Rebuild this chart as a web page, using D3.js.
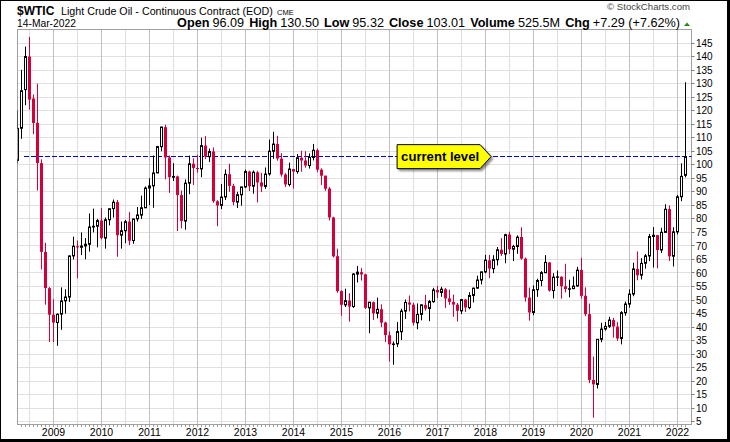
<!DOCTYPE html>
<html><head><meta charset="utf-8">
<script src="https://cdn.jsdelivr.net/npm/d3@7/dist/d3.min.js"></script>
<style>
body{margin:0;background:#fff}
svg{display:block}
text{font-family:"Liberation Sans",Arial,sans-serif}
</style>
</head><body>
<svg id="chart" width="730" height="442"></svg>
<script>
// ---- data: monthly WTIC candles, Apr 2008 .. Mar 2022 ----
const firstYear = 2008, firstMonth = 3; // April (0-based month)
const opens = [
 101.6,113.5,127.8,140.0,124.5,115.5,100.6,67.8,54.4,
 44.6,41.7,44.8,49.7,51.1,66.3,69.9,69.5,70.0,70.6,77.0,77.3,
 79.4,72.9,79.7,83.8,86.2,74.0,75.6,79.0,72.0,80.0,81.4,84.1,
 91.4,92.2,97.0,106.7,113.9,102.7,95.4,95.7,88.8,79.2,93.2,100.4,
 98.8,98.5,107.1,103.0,104.9,86.5,85.0,88.1,96.5,92.2,86.2,88.9,
 91.8,97.5,92.1,97.2,93.5,92.0,96.6,105.0,107.7,102.3,96.4,92.7,
 98.4,97.5,102.6,101.6,99.7,102.7,105.4,98.2,96.0,91.2,80.5,66.2,
 53.3,48.2,49.8,47.6,59.6,60.3,59.5,47.1,49.2,45.1,46.6,41.7,
 37.0,33.6,33.8,38.3,45.9,49.1,48.3,41.6,44.7,48.2,46.9,49.4,
 53.7,52.8,54.0,50.6,49.3,48.3,46.0,50.2,47.2,51.7,54.4,57.4,
 60.4,64.7,61.6,64.9,68.6,67.0,74.2,68.8,69.8,73.3,65.3,50.9,
 45.4,53.8,57.2,60.1,63.9,53.5,58.5,58.6,55.1,54.1,54.2,55.2,
 61.1,51.6,44.8,20.5,18.8,35.5,39.3,40.3,42.6,40.2,35.8,45.3,
 48.5,52.2,61.5,59.2,63.6,66.3,73.5,74.0,68.5,75.0,83.6,66.2,
 75.2,88.2,96.09
];
const highs = [
 119.9,135.1,143.67,147.27,126.0,130.0,102.0,71.2,54.8,
 50.3,45.0,54.7,54.0,66.5,73.4,72.0,75.0,72.9,82.0,83.8,80.0,
 83.95,80.5,83.2,87.15,87.0,79.0,79.6,82.5,80.0,84.4,88.6,92.0,
 95.0,103.4,107.0,114.1,114.8,103.4,100.6,96.0,90.5,94.6,103.4,102.4,
 103.7,110.0,110.6,106.0,106.4,86.9,92.9,98.3,100.4,93.0,90.0,91.0,
 98.2,97.8,97.9,97.8,97.0,99.0,109.3,112.2,110.7,104.3,96.9,100.8,
 98.5,104.0,105.2,104.99,104.2,107.7,106.0,98.7,95.9,91.8,80.8,69.0,
 53.6,54.2,52.5,59.9,62.6,61.8,59.7,49.3,49.5,50.9,48.4,42.0,
 38.4,34.7,41.9,46.8,50.2,51.7,49.0,48.75,48.3,51.9,50.0,54.5,
 55.2,54.9,54.5,53.8,52.0,48.9,50.4,50.4,52.9,54.6,59.0,60.5,
 66.7,66.7,66.6,69.6,72.9,74.5,75.3,70.4,73.9,76.9,65.7,54.6,
 55.4,57.9,60.7,66.6,64.0,59.9,60.9,58.8,63.4,57.5,58.7,62.3,
 65.65,54.7,48.7,29.1,35.6,41.6,41.9,43.8,43.4,41.9,45.9,49.4,
 53.9,63.8,67.98,65.5,67.0,74.45,76.98,74.0,76.7,85.41,84.97,76.9,
 88.84,100.54,130.50
];
const lows = [
 100.6,109.6,122.0,120.4,111.3,90.5,61.3,48.3,34.5,
 34.5,33.1,39.0,45.0,49.3,65.0,58.0,66.6,65.1,67.9,75.0,69.5,
 72.4,69.0,77.6,80.5,66.0,69.0,71.0,70.3,70.8,79.0,80.0,84.0,
 85.1,84.1,96.9,105.0,94.6,89.6,94.0,75.5,76.5,76.0,89.1,92.5,
 97.1,95.4,102.1,101.0,85.9,77.3,83.6,87.0,90.0,85.0,84.0,84.9,
 91.5,90.3,89.3,86.1,89.9,91.1,96.0,102.2,101.5,95.6,91.8,92.0,
 91.2,96.7,97.4,98.9,98.6,101.6,97.2,92.5,90.4,79.4,65.7,52.7,
 44.2,47.4,42.0,47.1,56.5,57.2,46.7,37.75,42.6,43.2,40.0,34.5,
 27.3,26.05,32.6,35.2,43.0,45.8,40.6,39.2,42.5,46.1,42.2,49.0,
 50.7,51.2,47.1,48.2,43.8,42.05,44.8,45.6,46.6,49.1,54.2,55.8,
 59.9,58.1,59.9,62.8,66.3,63.6,67.0,64.4,67.1,64.9,49.4,42.4,
 44.4,51.2,55.1,60.0,53.1,50.6,55.2,50.5,52.8,50.99,54.1,55.0,
 50.6,44.0,19.3,6.5,17.3,34.4,38.7,39.7,36.1,34.9,33.6,44.2,
 47.2,51.4,57.3,57.6,61.6,64.4,62.0,61.7,67.4,74.96,64.4,62.4,
 74.27,86.55,95.32
];
const closes = [
 113.46,127.35,140.0,124.08,115.46,100.64,67.81,54.43,44.6,
 41.68,44.76,49.66,51.12,66.31,69.89,69.45,69.96,70.61,77.0,77.28,79.36,
 72.89,79.66,83.76,86.15,73.97,75.63,78.95,71.92,79.97,81.43,84.11,91.38,
 92.19,96.97,106.72,113.93,102.7,95.42,95.7,88.81,79.2,93.19,100.36,98.83,
 98.48,107.07,103.02,104.87,86.53,84.96,88.06,96.47,92.19,86.24,88.91,91.82,
 97.49,92.05,97.23,93.46,91.97,96.56,105.03,107.65,102.33,96.38,92.72,98.42,
 97.49,102.59,101.58,99.74,102.71,105.37,98.17,95.96,91.16,80.54,66.15,53.27,
 48.24,49.76,47.6,59.63,60.3,59.47,47.12,49.2,45.09,46.59,41.65,37.04,
 33.62,33.75,38.34,45.92,49.1,48.33,41.6,44.7,48.24,46.86,49.44,53.72,
 52.81,54.01,50.6,49.33,48.32,46.04,50.17,47.23,51.67,54.38,57.4,60.42,
 64.73,61.64,64.94,68.57,67.04,74.15,68.76,69.8,73.25,65.31,50.93,45.41,
 53.79,57.22,60.14,63.91,53.5,58.47,58.58,55.1,54.07,54.18,55.17,61.06,
 51.56,44.76,20.48,18.84,35.49,39.27,40.27,42.61,40.22,35.79,45.34,48.52,
 52.2,61.5,59.16,63.58,66.32,73.47,73.95,68.5,75.03,83.57,66.18,75.21,
 88.15,95.72,103.01
];
const yearLabels = ["2009","2010","2011","2012","2013","2014","2015","2016","2017","2018","2019","2020","2021","2022"];
const yTickValues = [5,10,15,20,25,30,35,40,45,50,55,60,65,70,75,80,85,90,95,100,105,110,115,120,125,130,135,140,145];
const currentLevel = 103.01;
const headerFields = [["Open","96.09"],["High","130.50"],["Low","95.32"],["Close","103.01"],["Volume","525.5M"],["Chg","+7.29 (+7.62%)"]];

// ---- layout ----
const svg = d3.select("#chart");
const W = 730, H = 442;
const plot = {left:17.5, right:691.5, top:29.5, bottom:424.5};
const n = closes.length;
const x = d3.scaleLinear().domain([0, n-1]).range([17.5, 17.5 + 4*(n-1)]);
const y = d3.scaleLinear().domain([4, 150]).range([plot.bottom, plot.top]);
const px = v => Math.round(v - 0.5) + 0.5;

// fit a text element's width by adjusting its font-size
function fitWidth(sel, target, fixed){
  const node = sel.node();
  const s0 = parseFloat(sel.attr("font-size"));
  const w0 = node.getComputedTextLength();
  const s = s0 * (target - fixed) / (w0 - fixed);
  sel.attr("font-size", s.toFixed(2));
}

// frame
svg.append("rect").attr("x",0).attr("y",0).attr("width",W).attr("height",H).attr("fill","#000");
svg.append("rect").attr("x",1).attr("y",1).attr("width",W-4).attr("height",H-4).attr("fill","#fff");

const defs = svg.append("defs");
defs.append("clipPath").attr("id","plotclip").append("rect")
  .attr("x",plot.left).attr("y",plot.top).attr("width",plot.right-plot.left).attr("height",plot.bottom-plot.top);
const f = defs.append("filter").attr("id","shadow").attr("x","-20%").attr("y","-30%").attr("width","150%").attr("height","180%");
f.append("feDropShadow").attr("dx",2).attr("dy",2).attr("stdDeviation",1.3).attr("flood-color","#000").attr("flood-opacity",0.45);

// grid
const grid = svg.append("g");
yTickValues.forEach(v=>{
  grid.append("line").attr("x1",plot.left).attr("x2",plot.right)
    .attr("y1",px(y(v))).attr("y2",px(y(v))).attr("stroke","#e0e0e0").attr("stroke-width",1);
});
for(let i=0;i<n;i++){
  const cm = (firstMonth+i)%12;
  if(cm===0 || cm===6){
    grid.append("line").attr("x1",x(i)).attr("x2",x(i)).attr("y1",plot.top).attr("y2",plot.bottom)
      .attr("stroke", cm===0 ? "#c0c0c0" : "#dedede").attr("stroke-width",1);
  }
}
svg.append("rect").attr("x",plot.left).attr("y",plot.top).attr("width",plot.right-plot.left)
  .attr("height",plot.bottom-plot.top).attr("fill","none").attr("stroke","#a0a0a0");

// month ticks at the bottom
for(let i=0;i<n;i++){
  if(x(i) > plot.left){
    svg.append("line").attr("x1",x(i)).attr("x2",x(i)).attr("y1",plot.bottom).attr("y2",plot.bottom+2.5)
      .attr("stroke","#a0a0a0");
  }
}

// x labels
let yi = 0;
for(let i=0;i<n;i++){
  if((firstMonth+i)%12===0){
    svg.append("text").attr("x",x(i)).attr("y",436).attr("text-anchor","middle")
      .attr("font-size",10.5).attr("fill","#000").text(yearLabels[yi++]);
  }
}
// y axis
const yAxis = svg.append("g");
yTickValues.forEach(v=>{
  yAxis.append("line").attr("x1",plot.right).attr("x2",plot.right+3).attr("y1",px(y(v))).attr("y2",px(y(v))).attr("stroke","#808080");
  yAxis.append("text").attr("x",696).attr("y",y(v)).attr("dy","0.36em").attr("font-size",10).attr("fill","#000").text(v);
});

// current level dashed line
const yl = px(y(currentLevel));
svg.append("line").attr("x1",24).attr("x2",plot.right).attr("y1",yl).attr("y2",yl)
  .attr("stroke","#0000d0").attr("stroke-width",1).attr("stroke-dasharray","5,2");

// candles
const red = "#d4003a";
const cg = svg.append("g").attr("clip-path","url(#plotclip)");
for(let i=0;i<n;i++){
  const o=opens[i], h=highs[i], l=lows[i], c=closes[i];
  const cx = x(i);
  const down = c < o;
  const col = down ? red : "#000";
  cg.append("line").attr("x1",cx).attr("x2",cx).attr("y1",y(h)).attr("y2",y(l)).attr("stroke",col).attr("stroke-width",1);
  const top = y(Math.max(o,c)), bot = y(Math.min(o,c));
  if(down){
    cg.append("rect").attr("x",cx-1.5).attr("y",top).attr("width",3).attr("height",Math.max(1,bot-top)).attr("fill",red);
  } else {
    cg.append("rect").attr("x",cx-1).attr("y",top).attr("width",2).attr("height",Math.max(0.5,bot-top))
      .attr("fill","#fff").attr("stroke","#000").attr("stroke-width",1);
  }
}

// callout "current level"
const tipX = x(118.4), tipY = y(currentLevel);
const cl = svg.append("g");
cl.append("path").attr("d",`M${tipX-94},${tipY-12} L${tipX-11},${tipY-12} L${tipX},${tipY} L${tipX-11},${tipY+12} L${tipX-94},${tipY+12} Z`)
  .attr("fill","#ffff00").attr("stroke","#000").attr("stroke-width",1).attr("filter","url(#shadow)");
const ctext = cl.append("text").attr("x",tipX-90).attr("y",tipY+4.5).attr("font-size",13).attr("font-weight","bold").attr("fill","#000").text("current level");
fitWidth(ctext, 78, 0);

// header
svg.append("text").attr("x",17).attr("y",15).attr("fill","#000")
  .attr("font-family","DejaVu Sans").attr("font-weight","bold").attr("font-size",12).text("$WTIC");
const ttl = svg.append("text").attr("x",61).attr("y",15).attr("fill","#000").attr("font-family","DejaVu Sans").attr("font-size",10)
  .text("Light Crude Oil - Continuous Contract (EOD)");
fitWidth(ttl, 212, 0);
svg.append("text").attr("x",277).attr("y",15).attr("fill","#000").attr("font-family","DejaVu Sans").attr("font-size",7.5).text("CME");
const dt = svg.append("text").attr("x",17).attr("y",27).attr("font-family","DejaVu Sans").attr("font-size",10).attr("fill","#000").text("14-Mar-2022");
fitWidth(dt, 59, 0);
const cp = svg.append("text").attr("x",690).attr("y",10).attr("text-anchor","end").attr("font-family","DejaVu Sans").attr("font-size",9).attr("fill","#444").text("\u00A9 StockCharts.com");
fitWidth(cp, 83, 0);
const t2 = svg.append("text").attr("x",680).attr("y",27).attr("text-anchor","end").attr("fill","#000")
  .attr("font-family","DejaVu Sans").attr("font-size",10);
let dxTotal = 0;
headerFields.forEach((fv,k)=>{
  t2.append("tspan").attr("font-weight","bold").attr("dx", k===0?0:5).text(fv[0]);
  t2.append("tspan").attr("dx",3).text(fv[1]);
  dxTotal += (k===0?0:5) + 3;
});
fitWidth(t2, 449, dxTotal);
svg.append("path").attr("d","M684,26 L690,26 L687,22.5 Z").attr("fill","#1e8c1e");
</script>
</body></html>
